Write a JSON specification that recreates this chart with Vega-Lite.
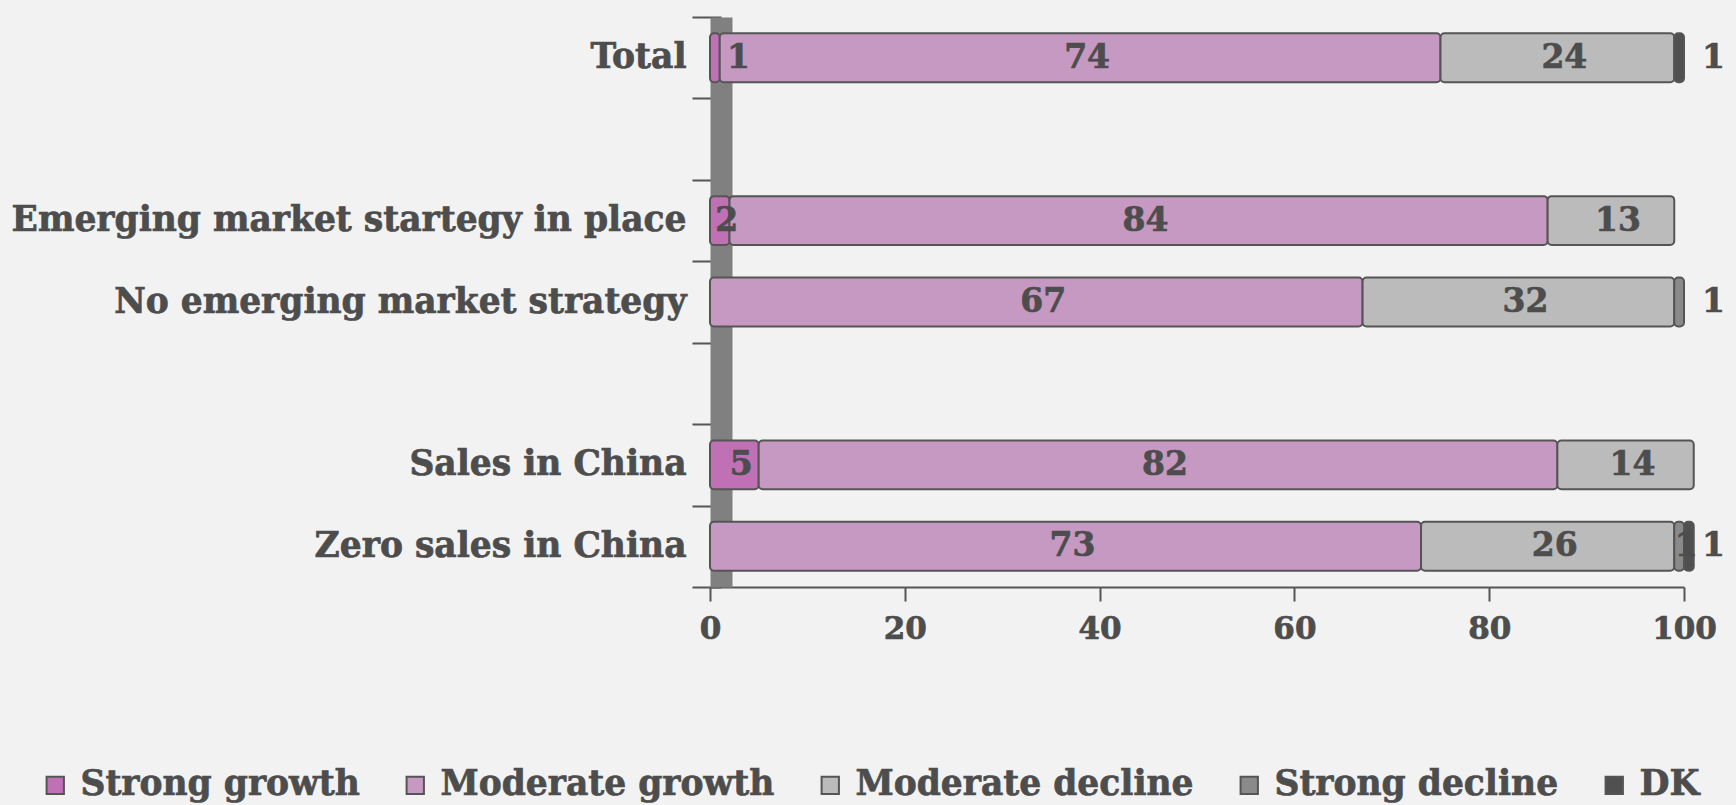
{
  "$schema": "https://vega.github.io/schema/vega-lite/v6.json",
  "width": 974,
  "height": 570,
  "autosize": {"type": "none"},
  "padding": {"left": 710, "top": 17, "right": 52, "bottom": 218},
  "background": "#f2f2f2",
  "config": {
    "view": {"stroke": null},
    "font": "DejaVu Serif",
    "style": {"guide-label": {"stroke": "#4d4d4d", "strokeWidth": 0.7}}
  },
  "data": {
    "values": [
      {"category": "Total", "response": "Strong growth", "value": 1},
      {"category": "Total", "response": "Moderate growth", "value": 74},
      {"category": "Total", "response": "Moderate decline", "value": 24},
      {"category": "Total", "response": "DK", "value": 1},
      {"category": "Emerging market startegy in place", "response": "Strong growth", "value": 2},
      {"category": "Emerging market startegy in place", "response": "Moderate growth", "value": 84},
      {"category": "Emerging market startegy in place", "response": "Moderate decline", "value": 13},
      {"category": "No emerging market strategy", "response": "Moderate growth", "value": 67},
      {"category": "No emerging market strategy", "response": "Moderate decline", "value": 32},
      {"category": "No emerging market strategy", "response": "Strong decline", "value": 1},
      {"category": "Sales in China", "response": "Strong growth", "value": 5},
      {"category": "Sales in China", "response": "Moderate growth", "value": 82},
      {"category": "Sales in China", "response": "Moderate decline", "value": 14},
      {"category": "Zero sales in China", "response": "Moderate growth", "value": 73},
      {"category": "Zero sales in China", "response": "Moderate decline", "value": 26},
      {"category": "Zero sales in China", "response": "Strong decline", "value": 1},
      {"category": "Zero sales in China", "response": "DK", "value": 1}
    ]
  },
  "transform": [
    {"calculate": "indexof(['Strong growth','Moderate growth','Moderate decline','Strong decline','DK'], datum.response)", "as": "rank"},
    {"stack": "value", "groupby": ["category"], "sort": [{"field": "rank", "order": "ascending"}], "as": ["x0", "x1"]},
    {"joinaggregate": [{"op": "max", "field": "x1", "as": "end"}], "groupby": ["category"]},
    {"calculate": "datum.value > 1.5 ? (datum.x0 + datum.x1) / 2 : (datum.rank == 0 ? datum.x1 + 1.2 : (datum.x1 == datum.end ? 102.3 : (datum.x0 + datum.x1) / 2))", "as": "lx"}
  ],
  "encoding": {
    "y": {
      "field": "category",
      "type": "nominal",
      "sort": null,
      "scale": {
        "domain": ["Total", " ", "Emerging market startegy in place", "No emerging market strategy", "  ", "Sales in China", "Zero sales in China"],
        "paddingInner": 0,
        "paddingOuter": 0
      },
      "axis": {
        "title": null,
        "labelFont": "DejaVu Serif",
        "labelFontWeight": "bold",
        "labelFontSize": 34.5,
        "labelColor": "#4d4d4d",
        "labelLimit": 800,
        "tickBand": "extent",
        "tickColor": "#555555",
        "tickSize": 29,
        "tickWidth": 2,
        "domainColor": "#808080",
        "domainWidth": 22,
        "domainCap": "butt",
        "offset": -11,
        "labelPadding": 6
      }
    }
  },
  "layer": [
    {
      "mark": {"type": "bar", "stroke": "#555555", "strokeWidth": 2, "cornerRadius": 4, "height": {"band": 0.6}},
      "encoding": {
        "x": {
          "field": "x0",
          "type": "quantitative",
          "scale": {"domain": [0, 100], "nice": false},
          "axis": {
            "title": null,
            "values": [0, 20, 40, 60, 80, 100],
            "grid": false,
            "labelFont": "DejaVu Serif",
            "labelFontWeight": "bold",
            "labelFontSize": 31,
            "labelColor": "#4d4d4d",
            "labelFlush": false,
            "tickColor": "#555555",
            "tickSize": 14,
            "tickWidth": 2,
            "domainColor": "#555555",
            "domainWidth": 2,
            "labelPadding": 13
          }
        },
        "x2": {"field": "x1"},
        "color": {
          "field": "response",
          "type": "nominal",
          "scale": {
            "domain": ["Strong growth", "Moderate growth", "Moderate decline", "Strong decline", "DK"],
            "range": ["#c070b4", "#c599c1", "#bbbbbb", "#8a8a8a", "#505050"]
          },
          "legend": {
            "orient": "none",
            "legendX": -672,
            "legendY": 751,
            "direction": "horizontal",
            "title": null,
            "labelFont": "DejaVu Serif",
            "labelFontWeight": "bold",
            "labelFontSize": 34.5,
            "labelColor": "#4d4d4d",
            "labelLimit": 600,
            "symbolType": "square",
            "symbolSize": 300,
            "symbolStrokeColor": "#555555",
            "symbolStrokeWidth": 2,
            "columnPadding": 38,
            "labelOffset": 8
          }
        }
      }
    },
    {
      "mark": {"type": "text", "font": "DejaVu Serif", "fontWeight": "bold", "fontSize": 33, "color": "#4d4d4d", "stroke": "#4d4d4d", "strokeWidth": 0.7, "dx": 7},
      "encoding": {
        "x": {"field": "lx", "type": "quantitative"},
        "text": {"field": "value", "type": "quantitative"}
      }
    }
  ]
}
